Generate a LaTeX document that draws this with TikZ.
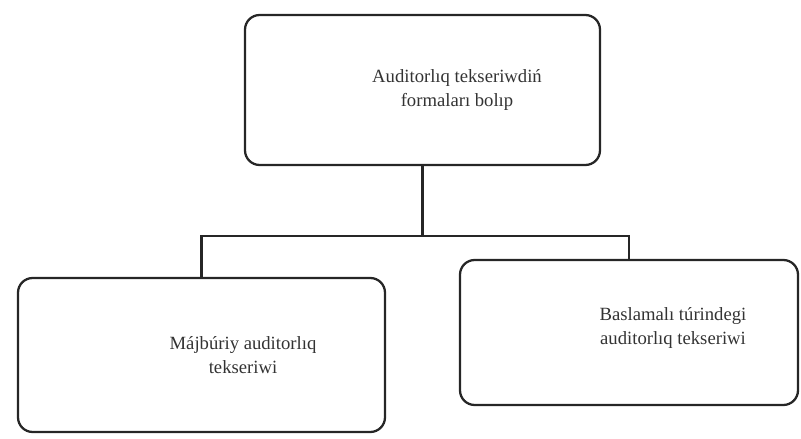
\documentclass[tikz,border=0pt]{standalone}
\usepackage{fontspec}
\setmainfont{Liberation Serif}
\begin{document}
\begin{tikzpicture}[x=0.75pt,y=-0.75pt,
  box/.style={draw=black!85, line width=1.7pt, rounded corners=11pt, inner sep=0pt},
  lbl/.style={font=\fontsize{14}{18}\selectfont, align=center, text=black!80},
  conn/.style={draw=black!85, line width=1.6pt}]
\useasboundingbox (0,0) rectangle (801,439);
\node[box, minimum width=355*0.75pt, minimum height=150*0.75pt] (top) at (422.5,90) {};
\node[box, minimum width=367*0.75pt, minimum height=154*0.75pt] (left) at (201.5,355) {};
\node[box, minimum width=338*0.75pt, minimum height=145*0.75pt] (right) at (629,332.5) {};
\node[lbl] (toptext) at (457,90) {Auditorlıq tekseriwdiń\\formaları bolıp};
\node[lbl] (lefttext) at (243,355) {Májbúriy auditorlıq\\tekseriwi};
\node[lbl] (righttext) at (673,328) {Baslamalı túrindegi\\auditorlıq tekseriwi};
\coordinate (bus) at (0,236);
\draw[conn] (top.south) -- (top.south |- bus);
\draw[conn] (left.north) -- (left.north |- bus) -- (right.north |- bus) -- (right.north);
\end{tikzpicture}
\end{document}
